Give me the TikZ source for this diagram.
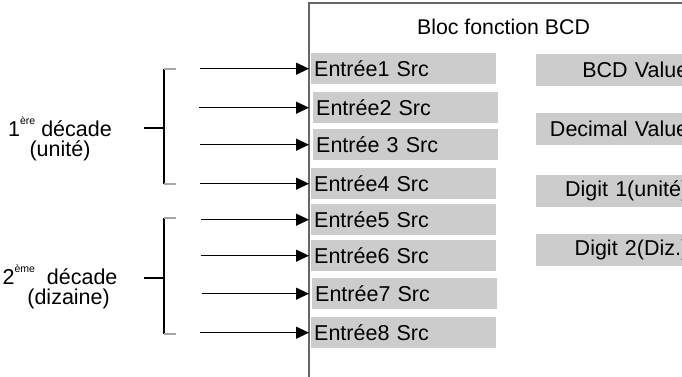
\documentclass[tikz,border=0pt]{standalone}
\usepackage{fontspec}
\setmainfont{Liberation Sans}
\usetikzlibrary{arrows.meta}
\definecolor{boxgray}{HTML}{CCCCCC}
\definecolor{framegray}{HTML}{666666}
\newcommand{\expo}[1]{\raisebox{0.55em}{\fontsize{10.5}{10}\selectfont #1}}
\tikzset{
  srcbox/.style={fill=boxgray, anchor=north west, minimum height=31pt, text width=179pt, inner xsep=3pt, inner ysep=0pt, align=left, font=\fontsize{21.5}{24}\selectfont},
  valbox/.style={fill=boxgray, anchor=north west, minimum height=32pt, text width=152pt, inner xsep=0pt, inner ysep=0pt, align=right, font=\fontsize{21.5}{24}\selectfont},
  arr/.style={-{Triangle[length=13pt,width=12pt]}, line width=1.2pt, shorten >=2pt},
  tick/.style={gray!70, line width=1.2pt},
  brace/.style={black, line width=1.2pt},
  decade/.style={align=center, font=\fontsize{21.5}{20.5}\selectfont}
}
\begin{document}
\begin{tikzpicture}[x=1pt,y=-1pt]
\useasboundingbox (0,0) rectangle (682,377);
\draw[framegray, line width=1.6pt] (309,377) -- (309,3) -- (690,3);
\node[font=\fontsize{21.3}{24}\selectfont] (title) at (503.5,27) {Bloc fonction BCD};
\node[srcbox] (e1) at (311,53) {Entrée1 Src};
\node[srcbox] (e2) at (313,92) {Entrée2 Src};
\node[srcbox] (e3) at (313,129) {Entrée 3 Src};
\node[srcbox] (e4) at (311,168) {Entrée4 Src};
\node[srcbox] (e5) at (311,204) {Entrée5 Src};
\node[srcbox] (e6) at (311,240) {Entrée6 Src};
\node[srcbox] (e7) at (312,278) {Entrée7 Src};
\node[srcbox] (e8) at (311,317) {Entrée8 Src};
\node[valbox] (bcd) at (536,54) {BCD Value};
\node[valbox] (dec) at (536,113) {Decimal Value};
\node[valbox] (dig1) at (536,175) {Digit 1(unité)};
\node[valbox] (dig2) at (536,234) {Digit 2(Diz.)};
\coordinate (s1) at (200,0);
\coordinate (s2) at (199,0);
\coordinate (s3) at (200,0);
\coordinate (s4) at (200,0);
\coordinate (s5) at (201,0);
\coordinate (s6) at (201,0);
\coordinate (s7) at (202,0);
\coordinate (s8) at (200,0);
\draw[arr] (s1 |- e1.west) -- (e1.west);
\draw[arr] (s2 |- e2.west) -- (e2.west -| e1.west);
\draw[arr] (s3 |- e3.west) -- (e3.west -| e1.west);
\draw[arr] (s4 |- e4.west) -- (e4.west);
\draw[arr] (s5 |- e5.west) -- (e5.west);
\draw[arr] (s6 |- e6.west) -- (e6.west);
\draw[arr] (s7 |- e7.west) -- (e7.west -| e1.west);
\draw[arr] (s8 |- e8.west) -- (e8.west);
\draw[brace] (164,69) -- (164,184);
\draw[tick] (164,69) -- (176,69);
\draw[tick] (164,184) -- (176,184);
\draw[brace] (144,128) -- (164,128);
\draw[brace] (164,218) -- (164,334);
\draw[tick] (164,218) -- (176,218);
\draw[tick] (164,334) -- (176,334);
\draw[brace] (144,278) -- (164,278);
\node[decade] (unites) at (60,139) {1\expo{ère} décade\\(unité)};
\node[decade] (dizaines) at (60,287) {2\expo{ème}\ \ décade\\\hspace{0.8em}(dizaine)};
\end{tikzpicture}
\end{document}
